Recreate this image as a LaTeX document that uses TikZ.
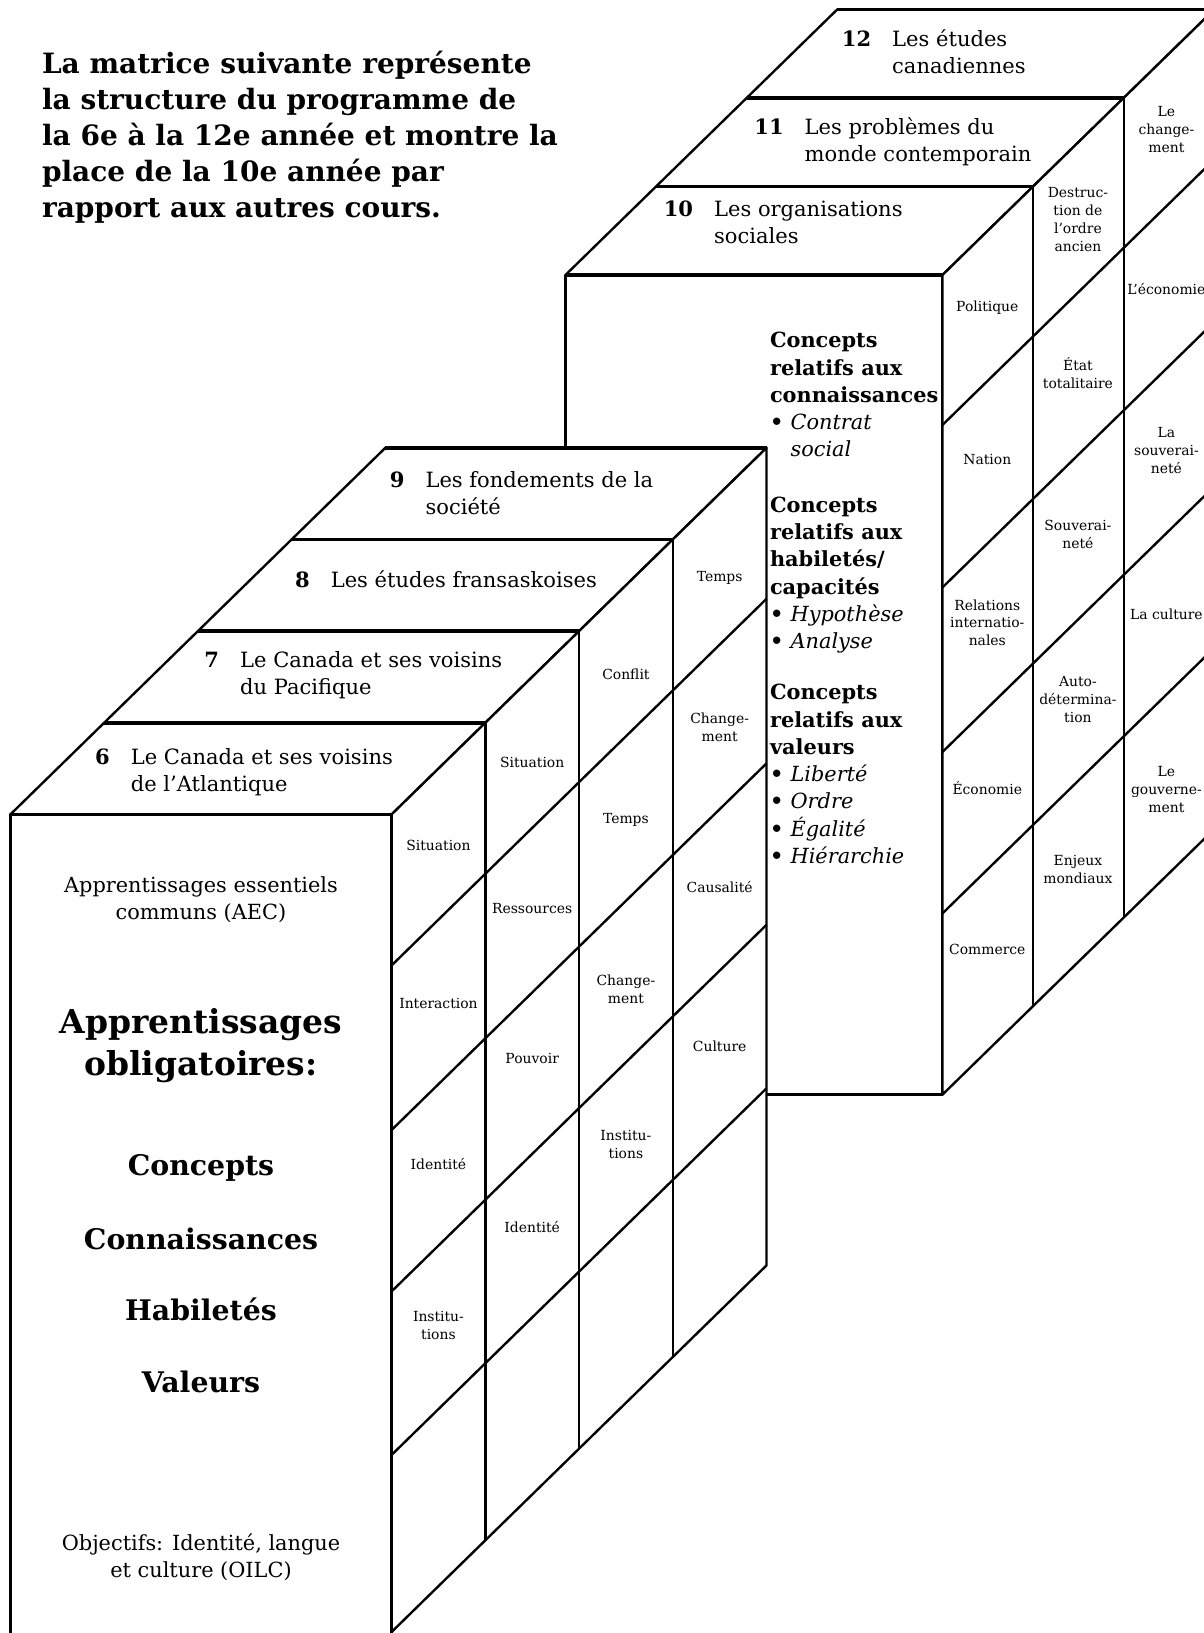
\documentclass[tikz,border=0pt]{standalone}
\usepackage{fontspec}
\setmainfont{DejaVu Serif}

\begin{document}
\begin{tikzpicture}[x=0.02cm, y=-0.02cm,
    edge/.style={line width=1.3pt, line join=round},
    rim/.style={line width=2pt},
    face/.style={fill=white},
    intro/.style={anchor=base west, inner sep=0pt, font=\bfseries\fontsize{15.3}{19.6}\selectfont},
    course/.style={anchor=base west, inner sep=0pt, font=\fontsize{11.5}{14.6}\selectfont},
    cell/.style={inner sep=0pt, align=center, font=\fontsize{7.6}{9.8}\selectfont},
    front/.style={anchor=base, inner sep=0pt, font=\fontsize{11.4}{14.5}\selectfont},
    heading/.style={anchor=base, inner sep=0pt, font=\bfseries\fontsize{15.5}{17}\selectfont},
    concept/.style={anchor=base west, inner sep=0pt, font=\bfseries\fontsize{11.4}{14.9}\selectfont},
    item/.style={font=\mdseries\itshape}]

        \useasboundingbox (0,0) rectangle (1156,1568);
        \clip (0,0) rectangle (1156,1568);

        % Draw the block of grades 10 to 12 (behind)
        \coordinate (r0) at (543,264);
        \coordinate (r1) at (905,264);
        \coordinate (r2) at (905,1051);
        \coordinate (r3) at (543,1051);
        \coordinate (r4) at (804,9);
        \coordinate (r5) at (1166,9);
        \coordinate (r6) at (1166,796);

        \draw[edge, face] (r0) -- (r1) -- (r2) -- (r3) -- cycle;
        \draw[edge, face] (r0) -- (r4) -- (r5) -- (r1) -- cycle;
        \draw[edge, face] (r1) -- (r5) -- (r6) -- (r2) -- cycle;

        % slab edges of 10, 11, 12
        \draw[rim] (r0) -- (r1);
        \draw[rim] (630,179) -- (992,179);
        \draw[rim] (717,94) -- (1079,94);
        \draw[rim] (r4) -- (r5);

        % columns and cells of the side
        \draw[edge] (992,179) -- (992,966);
        \draw[edge] (1079,94) -- (1079,881);
        \draw[edge] (905,408) -- (1166,153);
        \draw[edge] (905,564) -- (1166,309);
        \draw[edge] (905,722) -- (1166,467);
        \draw[edge] (905,877) -- (1166,622);

        % Course titles 10 to 12
        \node[course] (g10) at (637,208) {\textbf{10}\hspace{1em}\begin{tabular}[t]{@{}l@{}}Les organisations\\sociales\end{tabular}};
        \node[course] (g11) at (724,129) {\textbf{11}\hspace{1em}\begin{tabular}[t]{@{}l@{}}Les problèmes du\\monde contemporain\end{tabular}};
        \node[course] (g12) at (808,45) {\textbf{12}\hspace{1em}\begin{tabular}[t]{@{}l@{}}Les études\\canadiennes\end{tabular}};

        % Concepts of grade 10
        \newcommand{\pt}[1]{\textbullet\ {\mdseries\itshape #1}}
        \node[concept] (know) at (739,334) {\begin{tabular}[t]{@{}l@{}}Concepts\\relatifs aux\\connaissances\\\pt{Contrat}\\\phantom{\textbullet\ }{\mdseries\itshape social}\end{tabular}};
        \node[concept] (skill) at (739,492) {\begin{tabular}[t]{@{}l@{}}Concepts\\relatifs aux\\habiletés/\\capacités\\\pt{Hypothèse}\\\pt{Analyse}\end{tabular}};
        \node[concept] (vals) at (739,672) {\begin{tabular}[t]{@{}l@{}}Concepts\\relatifs aux\\valeurs\\\pt{Liberté}\\\pt{Ordre}\\\pt{Égalité}\\\pt{Hiérarchie}\end{tabular}};

        % Side cells 10
        \node[cell] (s101) at (948,295) {Politique};
        \node[cell] (s102) at (948,441) {Nation};
        \node[cell] (s103) at (948,598) {Relations\\internatio-\\nales};
        \node[cell] (s104) at (948,757) {Économie};
        \node[cell] (s105) at (948,912) {Commerce};

        % Side cells 11
        \node[cell] (s111) at (1035,211) {Destruc-\\tion de\\l'ordre\\ancien};
        \node[cell] (s112) at (1035,358) {État\\totalitaire};
        \node[cell] (s113) at (1035,513) {Souverai-\\neté};
        \node[cell] (s114) at (1035,672) {Auto-\\détermina-\\tion};
        \node[cell] (s115) at (1035,835) {Enjeux\\mondiaux};

        % Side cells 12
        \node[cell] (s121) at (1120,124) {Le\\change-\\ment};
        \node[cell] (s122) at (1120,278) {L'économie};
        \node[cell] (s123) at (1120,433) {La\\souverai-\\neté};
        \node[cell] (s124) at (1120,590) {La culture};
        \node[cell] (s125) at (1120,758) {Le\\gouverne-\\ment};

        % Draw the block of grades 6 to 9 (in front)
        \coordinate (l0) at (10,782);
        \coordinate (l1) at (376,782);
        \coordinate (l2) at (376,1600);
        \coordinate (l3) at (10,1600);
        \coordinate (l4) at (370,430);
        \coordinate (l5) at (736,430);
        \coordinate (l6) at (736,1215);
        \coordinate (l7) at (376,1567);

        \draw[edge, face] (l0) -- (l1) -- (l2) -- (l3) -- cycle;
        \draw[edge, face] (l0) -- (l4) -- (l5) -- (l1) -- cycle;
        \draw[edge, face] (l1) -- (l5) -- (l6) -- (l7) -- cycle;

        % slab edges of 6 to 9
        \draw[rim] (l0) -- (l1);
        \draw[rim] (100,694) -- (466,694);
        \draw[rim] (190,606) -- (556,606);
        \draw[rim] (280,518) -- (646,518);
        \draw[rim] (l4) -- (l5);

        % columns and cells of the side
        \draw[edge] (466,694) -- (466,1479);
        \draw[edge] (556,606) -- (556,1391);
        \draw[edge] (646,518) -- (646,1303);
        \draw[edge] (376,927) -- (736,575);
        \draw[edge] (376,1085) -- (736,733);
        \draw[edge] (376,1240) -- (736,888);
        \draw[edge] (376,1397) -- (736,1045);

        % Course titles 6 to 9
        \node[course] (g6) at (91,734) {\textbf{6}\hspace{1em}\begin{tabular}[t]{@{}l@{}}Le Canada et ses voisins\\de l'Atlantique\end{tabular}};
        \node[course] (g7) at (196,641) {\textbf{7}\hspace{1em}\begin{tabular}[t]{@{}l@{}}Le Canada et ses voisins\\du Pacifique\end{tabular}};
        \node[course] (g8) at (283,564) {\textbf{8}\hspace{1em}Les études fransaskoises};
        \node[course] (g9) at (374,468) {\textbf{9}\hspace{1em}\begin{tabular}[t]{@{}l@{}}Les fondements de la\\société\end{tabular}};

        % Front of grade 6
        \node[front] (aec) at (193,857) {\begin{tabular}[t]{@{}c@{}}Apprentissages essentiels\\communs (AEC)\end{tabular}};
        \node[heading, font=\bfseries\fontsize{18}{23.1}\selectfont] (oblig) at (193,992) {\begin{tabular}[t]{@{}c@{}}Apprentissages\\obligatoires:\end{tabular}};
        \node[heading] (conc) at (193,1129) {Concepts};
        \node[heading] (conn) at (193,1200) {Connaissances};
        \node[heading] (habi) at (193,1268) {Habiletés};
        \node[heading] (vale) at (193,1337) {Valeurs};
        \node[front] (oilc) at (193,1489) {\begin{tabular}[t]{@{}c@{}}Objectifs: Identité, langue\\et culture (OILC)\end{tabular}};

        % Side cells 6
        \node[cell] (s61) at (421,812) {Situation};
        \node[cell] (s62) at (421,964) {Interaction};
        \node[cell] (s63) at (421,1118) {Identité};
        \node[cell] (s64) at (421,1273) {Institu-\\tions};

        % Side cells 7
        \node[cell] (s71) at (511,732) {Situation};
        \node[cell] (s72) at (511,872) {Ressources};
        \node[cell] (s73) at (511,1016) {Pouvoir};
        \node[cell] (s74) at (511,1178) {Identité};

        % Side cells 8
        \node[cell] (s81) at (601,647) {Conflit};
        \node[cell] (s82) at (601,787) {Temps};
        \node[cell] (s83) at (601,950) {Change-\\ment};
        \node[cell] (s84) at (601,1099) {Institu-\\tions};

        % Side cells 9
        \node[cell] (s91) at (691,555) {Temps};
        \node[cell] (s92) at (691,698) {Change-\\ment};
        \node[cell] (s93) at (691,852) {Causalité};
        \node[cell] (s94) at (691,1005) {Culture};

        % Intro text
        \node[intro] (txt) at (40,71) {\begin{tabular}[t]{@{}l@{}}La matrice suivante représente\\la structure du programme de\\la 6e à la 12e année et montre la\\place de la 10e année par\\rapport aux autres cours.\end{tabular}};
\end{tikzpicture}
\end{document}
